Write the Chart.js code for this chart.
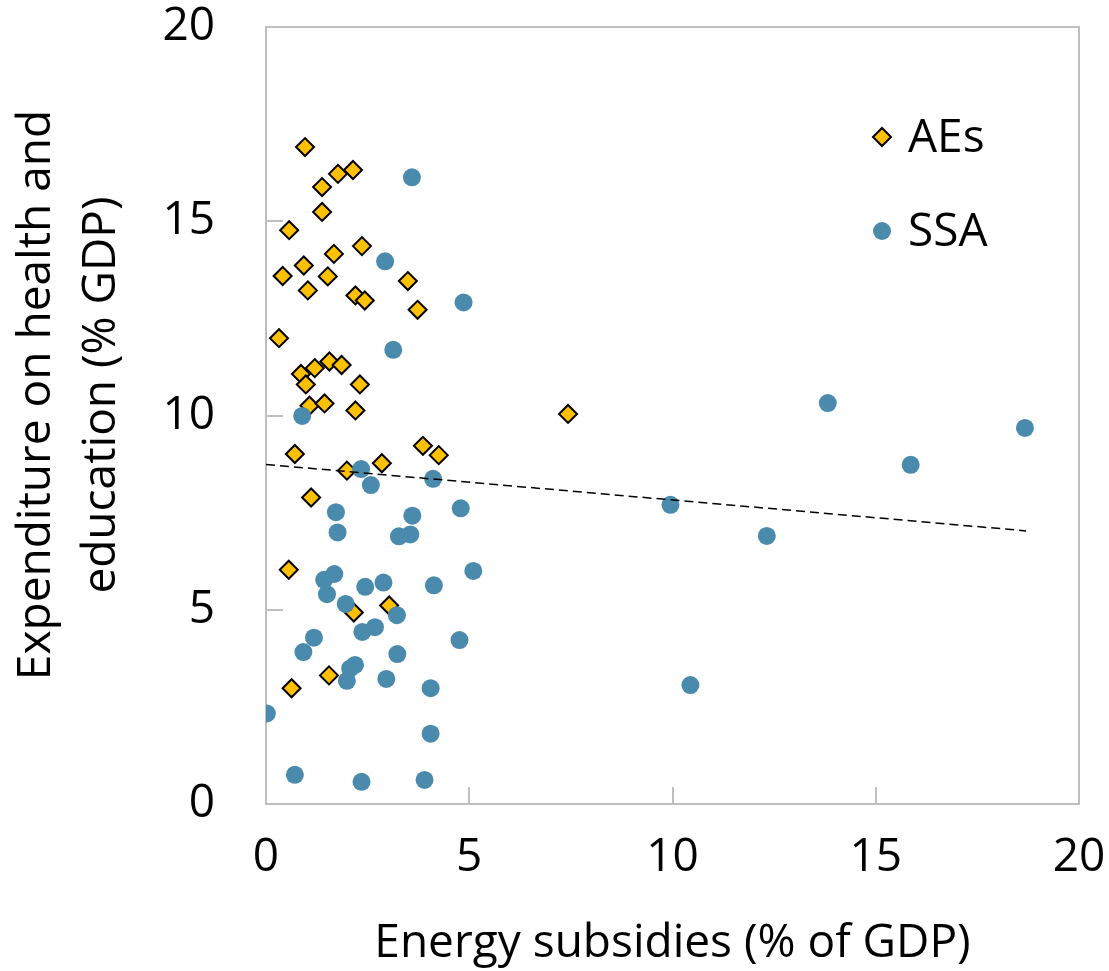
<!DOCTYPE html>
<html>
<head>
<meta charset="utf-8">
<script src="https://cdn.jsdelivr.net/npm/chart.js@4.4.1/dist/chart.umd.min.js"></script>
<style>
  html, body { margin: 0; padding: 0; background: #fff; }
  #wrap { width: 1109px; height: 971px; }
</style>
</head>
<body>
<div id="wrap"><canvas id="chart" width="1109" height="971"></canvas></div>
<script>
// Advanced economies – energy subsidies vs health+education spending (% GDP)
const aeX = [0.96, 1.77, 2.14, 1.38, 1.38, 0.57, 2.36, 1.67, 0.41, 0.93, 1.52, 3.49, 1.03, 2.20, 2.43, 3.73,
             0.32, 1.56, 1.86, 1.20, 0.86, 0.98, 2.31, 1.07, 1.44, 2.20, 7.43, 3.86, 4.25, 0.71, 1.99, 2.85,
             1.11, 0.56, 2.16, 3.03, 0.63, 1.55];
const aeY = [16.91, 16.22, 16.32, 15.88, 15.24, 14.77, 14.36, 14.16, 13.59, 13.86, 13.58, 13.46, 13.22, 13.09, 12.96, 12.72,
             11.99, 11.39, 11.30, 11.22, 11.07, 10.80, 10.80, 10.25, 10.31, 10.13, 10.04, 9.22, 8.98, 9.01, 8.58, 8.77,
             7.89, 6.03, 4.93, 5.11, 2.98, 3.31];

// Sub-Saharan Africa
const ssaX = [3.59, 2.93, 4.86, 3.13, 0.89, 2.34, 2.58, 4.11, 1.72, 3.60, 4.79, 1.76, 3.27, 3.55, 5.10, 1.68,
              1.43, 1.50, 2.44, 2.89, 4.13, 1.96, 3.22, 2.37, 2.68, 4.76, 1.18, 0.92, 3.23, 2.19, 2.07, 1.99,
              2.96, 4.05, 0.02, 4.05, 0.71, 2.35, 3.90, 13.82, 18.67, 15.86, 9.95, 12.32, 10.44];
const ssaY = [16.13, 13.97, 12.91, 11.69, 9.99, 8.62, 8.21, 8.37, 7.51, 7.42, 7.61, 6.99, 6.89, 6.94, 6.00, 5.92,
              5.77, 5.40, 5.59, 5.70, 5.63, 5.15, 4.86, 4.43, 4.55, 4.22, 4.28, 3.91, 3.86, 3.58, 3.49, 3.17,
              3.22, 2.98, 2.33, 1.81, 0.75, 0.57, 0.62, 10.32, 9.68, 8.73, 7.70, 6.90, 3.06];

// linear trend (all countries)
const trendX = [0, 18.7];
const trendY = [8.74, 7.03];

const xTicks = [0, 5, 10, 15, 20];
const yTicks = [0, 5, 10, 15, 20];

const FONT = '"Open Sans", "Noto Sans", sans-serif';
const FONT_SIZE = 46;
const AXIS_GREY = '#BFBFBF';
const AE_FILL = '#FFC000';
const SSA_FILL = '#4A8BAD';

const toPts = (xs, ys) => xs.map((x, i) => ({ x, y: ys[i] }));

// frame round the plot area (top + right sides too)
const framePlugin = {
  id: 'frame',
  beforeDatasetsDraw(chart) {
    const { ctx, chartArea: a } = chart;
    ctx.save();
    ctx.strokeStyle = AXIS_GREY;
    ctx.lineWidth = 2;
    ctx.strokeRect(a.left, a.top, a.right - a.left, a.bottom - a.top);
    ctx.restore();
  },
};

// two-line y title
const yTitlePlugin = {
  id: 'yTitle',
  afterDraw(chart) {
    const { ctx } = chart;
    ctx.save();
    ctx.translate(0, 395);
    ctx.rotate(-Math.PI / 2);
    ctx.font = FONT_SIZE + 'px ' + FONT;
    ctx.fillStyle = '#000';
    ctx.textAlign = 'center';
    ctx.textBaseline = 'alphabetic';
    ctx.fillText('Expenditure on health and', 0, 50);
    ctx.fillText('education (% GDP)', 0, 115);
    ctx.restore();
  },
};

// legend inside the plot, top right
const legendPlugin = {
  id: 'innerLegend',
  afterDraw(chart) {
    const { ctx } = chart;
    const items = [
      { ds: chart.data.datasets[2], y: 137 },
      { ds: chart.data.datasets[1], y: 231 },
    ];
    ctx.save();
    ctx.font = FONT_SIZE + 'px ' + FONT;
    ctx.textBaseline = 'middle';
    ctx.textAlign = 'left';
    items.forEach(it => {
      ctx.fillStyle = it.ds.backgroundColor;
      ctx.strokeStyle = it.ds.borderColor;
      ctx.lineWidth = it.ds.borderWidth;
      Chart.helpers.drawPoint(ctx, {
        pointStyle: it.ds.pointStyle,
        radius: 9,
        borderWidth: it.ds.borderWidth,
        rotation: 0,
      }, 882, it.y);
      ctx.fillStyle = '#000';
      ctx.fillText(it.ds.label, 908, it.y + 2);
    });
    ctx.restore();
  },
};

new Chart(document.getElementById('chart').getContext('2d'), {
  type: 'scatter',
  data: {
    datasets: [
      {
        label: 'Trend',
        type: 'line',
        data: toPts(trendX, trendY),
        borderColor: '#000',
        borderWidth: 1.5,
        borderDash: [9, 5],
        pointRadius: 0,
        fill: false,
      },
      {
        label: 'SSA',
        data: toPts(ssaX, ssaY),
        pointStyle: 'circle',
        backgroundColor: SSA_FILL,
        borderColor: SSA_FILL,
        borderWidth: 0,
        pointRadius: 9,
        pointHoverRadius: 9,
      },
      {
        label: 'AEs',
        data: toPts(aeX, aeY),
        pointStyle: 'rectRot',
        backgroundColor: AE_FILL,
        borderColor: '#000',
        borderWidth: 2,
        pointRadius: 9,
        pointHoverRadius: 9,
      },
    ],
  },
  options: {
    responsive: false,
    animation: false,
    layout: { padding: { top: 27, right: 30, left: 0, bottom: 0 } },
    plugins: {
      legend: { display: false },
      tooltip: { enabled: false },
    },
    scales: {
      x: {
        type: 'linear',
        min: 0, max: 20,
        afterBuildTicks(scale) { scale.ticks = xTicks.map(v => ({ value: v })); },
        afterFit(scale) {
          scale.height = 167;
          scale.paddingLeft = 0; scale.paddingRight = 0;
        },
        grid: { drawOnChartArea: false, tickLength: -17, color: AXIS_GREY, lineWidth: 2 },
        border: { color: AXIS_GREY, width: 2 },
        ticks: { color: '#000', padding: 43, font: { family: FONT, size: FONT_SIZE } },
        title: {
          display: true,
          text: 'Energy subsidies (% of GDP)',
          color: '#000',
          font: { family: FONT, size: FONT_SIZE },
          padding: { top: 0, bottom: 0 },
        },
      },
      y: {
        type: 'linear',
        min: 0, max: 20,
        afterBuildTicks(scale) { scale.ticks = yTicks.map(v => ({ value: v })); },
        afterFit(scale) {
          scale.width = 266;
          scale.paddingTop = 0; scale.paddingBottom = 0;
        },
        grid: { drawOnChartArea: false, tickLength: -17, color: AXIS_GREY, lineWidth: 2 },
        border: { color: AXIS_GREY, width: 2 },
        ticks: { color: '#000', padding: 68, font: { family: FONT, size: FONT_SIZE } },
      },
    },
  },
  plugins: [framePlugin, yTitlePlugin, legendPlugin],
});
</script>
</body>
</html>
